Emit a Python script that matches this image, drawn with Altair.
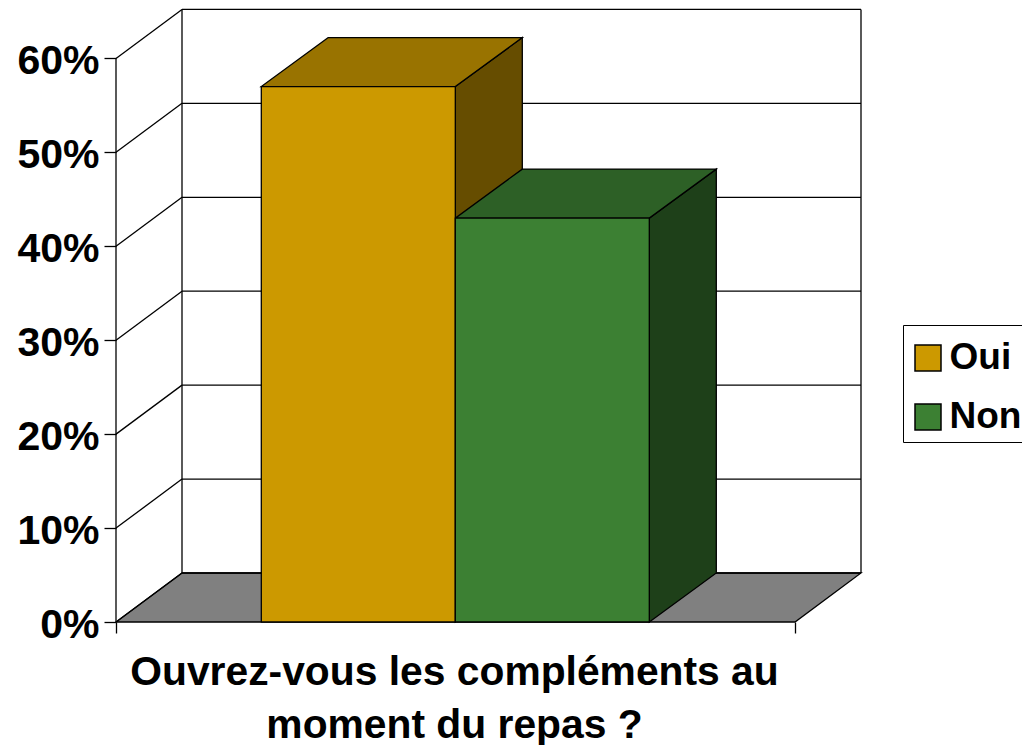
import altair as alt
import pandas as pd

# Data
categories = ["Oui", "Non"]
values = [0.57, 0.43]
front_colors = ["#CC9900", "#3C8033"]
top_colors = ["#997300", "#2D6026"]
side_colors = ["#664D00", "#1E4019"]
ticks = [0, 0.1, 0.2, 0.3, 0.4, 0.5, 0.6]
title_lines = ["Ouvrez-vous les compléments au", "moment du repas ?"]

FONT = "Liberation Sans"
W, H = 746, 613
PX_X, PX_Y = 679, 939.3      # pixels per unit on each axis
FLOOR_DX, FLOOR_DY = 66 / PX_X, 49 / PX_Y
BAR_DX, BAR_DY = 67 / PX_X, 49 / PX_Y
GAP = 145.3 / PX_X
BAR_W = 194 / PX_X
SW = 1.3

xs = alt.Scale(domain=[0, W / PX_X], nice=False, zero=False)
ys = alt.Scale(domain=[0, H / PX_Y], nice=False, zero=False)

x_axis = alt.Axis(
    values=[0, 1],
    labels=False,
    grid=False,
    domain=False,
    tickSize=11,
    tickColor="black",
    tickWidth=SW,
    title=title_lines,
    titleFont=FONT,
    titleFontSize=40.8,
    titleFontWeight="bold",
    titleColor="black",
    titleLineHeight=52.5,
    titleX=338,
    titleY=62.5,
    titleAlign="center",
    titleBaseline="alphabetic",
)
y_axis = alt.Axis(
    values=ticks,
    format=".0%",
    grid=False,
    domain=False,
    title=None,
    tickSize=12,
    tickColor="black",
    tickWidth=SW,
    labelFont=FONT,
    labelFontSize=41,
    labelFontWeight="bold",
    labelColor="black",
    labelPadding=5,
    labelOffset=3,
)

X = alt.X("x:Q", scale=xs, axis=x_axis)
Y = alt.Y("y:Q", scale=ys, axis=y_axis)
X2 = alt.X2("x2:Q")
Y2 = alt.Y2("y2:Q")


def hpar(rows, color):
    """Parallelogram with horizontal top and bottom edges."""
    return alt.Chart(pd.DataFrame(rows)).mark_area(
        orient="horizontal", fill=color, stroke="black", strokeWidth=SW, opacity=1
    ).encode(y=Y, x=X, x2=X2)


def vpar(rows, color):
    """Parallelogram with vertical left and right edges."""
    return alt.Chart(pd.DataFrame(rows)).mark_area(
        orient="vertical", fill=color, stroke="black", strokeWidth=SW, opacity=1
    ).encode(x=X, y=Y, y2=Y2)


# Floor
floor = hpar(
    [{"y": 0, "x": 0, "x2": 1}, {"y": FLOOR_DY, "x": FLOOR_DX, "x2": 1 + FLOOR_DX}],
    "#808080",
)

# Back wall grid
grid_df = pd.DataFrame({"v": ticks})
grid_df["y"] = grid_df["v"] + FLOOR_DY
grid_df["x"] = FLOOR_DX
grid_df["x2"] = 1 + FLOOR_DX
back_grid = alt.Chart(grid_df).mark_rule(color="black", strokeWidth=SW).encode(
    x=X, x2=X2, y=Y
)

# Left wall diagonals
diag_rows = []
for t in ticks:
    diag_rows += [{"t": t, "x": 0, "y": t}, {"t": t, "x": FLOOR_DX, "y": t + FLOOR_DY}]
diag = alt.Chart(pd.DataFrame(diag_rows)).mark_line(color="black", strokeWidth=SW).encode(
    x=X, y=Y, detail="t:N"
)

# Verticals: front left axis, back left, back right
top = max(ticks)
vert_df = pd.DataFrame(
    [
        {"x": 0, "y": 0, "y2": top},
        {"x": FLOOR_DX, "y": FLOOR_DY, "y2": top + FLOOR_DY},
        {"x": 1 + FLOOR_DX, "y": FLOOR_DY, "y2": top + FLOOR_DY},
    ]
)
verts = alt.Chart(vert_df).mark_rule(color="black", strokeWidth=SW).encode(
    x=X, y=Y, y2=Y2
)

# Bars
layers = [floor, back_grid, diag, verts]
front_rows = []
for i, (cat, val) in enumerate(zip(categories, values)):
    x0 = GAP + i * BAR_W
    x1 = x0 + BAR_W
    layers.append(
        vpar(
            [
                {"x": x1, "y": 0, "y2": val},
                {"x": x1 + BAR_DX, "y": BAR_DY, "y2": val + BAR_DY},
            ],
            side_colors[i],
        )
    )
    layers.append(
        hpar(
            [
                {"y": val, "x": x0, "x2": x1},
                {"y": val + BAR_DY, "x": x0 + BAR_DX, "x2": x1 + BAR_DX},
            ],
            top_colors[i],
        )
    )
    front_rows.append({"serie": cat, "x": x0, "x2": x1, "y": 0, "y2": val})

front = alt.Chart(pd.DataFrame(front_rows)).mark_rect(
    stroke="black", strokeWidth=SW, opacity=1
).encode(
    x=X,
    x2=X2,
    y=Y,
    y2=Y2,
    color=alt.Color(
        "serie:N",
        scale=alt.Scale(domain=categories, range=front_colors),
        legend=alt.Legend(
            title=" ",
            titleFontSize=1,
            titlePadding=7,
            orient="none",
            legendX=787,
            legendY=316,
            padding=6.5,
            fillColor="white",
            strokeColor="black",
            symbolType="square",
            symbolSize=676,
            symbolStrokeColor="black",
            symbolStrokeWidth=1.5,
            symbolOpacity=1,
            labelFont=FONT,
            labelFontWeight="bold",
            labelFontSize=37,
            labelColor="black",
            labelOffset=3,
            rowPadding=21,
        ),
    ),
)
layers.append(front)

chart = (
    alt.layer(*layers)
    .resolve_scale(x="shared", y="shared")
    .properties(
        width=W,
        height=H,
        autosize=alt.AutoSizeParams(type="none"),
        padding={"left": 108, "top": 1, "right": 160, "bottom": 123},
    )
    .configure_view(stroke=None)
)

chart.save("out.html", embed_options={"renderer": "svg", "actions": False})
